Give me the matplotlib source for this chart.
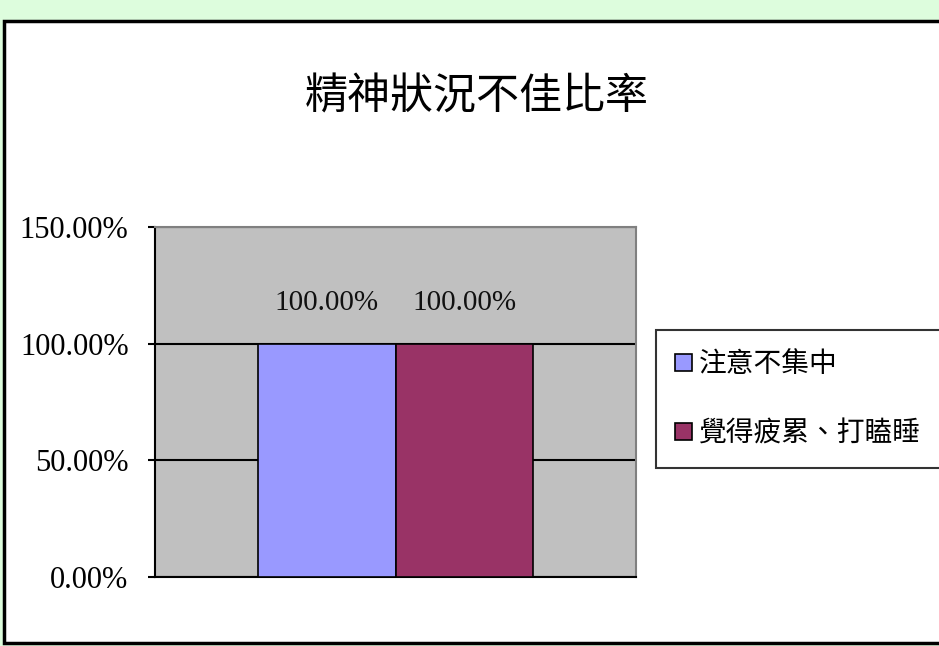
import matplotlib
matplotlib.use("Agg")
import matplotlib.pyplot as plt
from matplotlib.patches import Rectangle

title = "精神狀況不佳比率"
series_names = ["注意不集中", "覺得疲累、打瞌睡"]
series_values = [1.0, 1.0]
series_colors = ["#9999FF", "#993366"]
yticks = [0.0, 0.5, 1.0, 1.5]

cjk = ["Noto Sans CJK TC", "DejaVu Sans"]
serif = "Liberation Serif"

W, H = 939, 646
fig = plt.figure(figsize=(W / 100, H / 100), dpi=100)
fig.patch.set_facecolor("#DDFDDD")

# white chart area with black frame, kept behind the axes
frame = Rectangle((4 / W, 3 / H), 1.0, 1 - 24 / H, transform=fig.transFigure,
                  facecolor="white", edgecolor="black", linewidth=2.5, zorder=-10)
fig.patches.append(frame)

ax = fig.add_axes([155 / W, 1 - 577 / H, (636 - 155) / W, (577 - 227) / H])
ax.set_facecolor("#C0C0C0")

width = 0.285
offsets = [-width / 2, width / 2]
for name, val, col, off in zip(series_names, series_values, series_colors, offsets):
    bars = ax.bar(off, val, width=width, color=col, edgecolor="black", linewidth=1.2,
                  label=name, zorder=3)
    ax.bar_label(bars, labels=["%.2f%%" % (v * 100) for v in [val]], padding=20,
                 fontsize=21, family=serif, color="#111111")

ax.set_xlim(-0.5, 0.5)
ax.set_ylim(0, 1.5)
ax.set_yticks(yticks)
ax.set_yticklabels(["%.2f%%" % (v * 100) for v in yticks], family=serif, fontsize=22)
ax.set_xticks([])
ax.yaxis.grid(True, color="black", linewidth=1.5, zorder=1)
ax.set_axisbelow(True)
ax.tick_params(axis="y", length=5, width=1.5, pad=14, color="black")
for s in ["top", "right"]:
    ax.spines[s].set_color("#808080")
    ax.spines[s].set_linewidth(1.5)
for s in ["left", "bottom"]:
    ax.spines[s].set_color("black")
    ax.spines[s].set_linewidth(1.5)

fig.text(477 / W, 1 - 97 / H, title, ha="center", va="center", fontsize=31, family=cjk)

leg = fig.legend(loc="upper left", bbox_to_anchor=(656 / W, 1 - 330 / H),
                 prop={"family": cjk, "size": 20}, frameon=True, fancybox=False,
                 edgecolor="black", handlelength=0.6, handleheight=0.6,
                 handletextpad=0.25, labelspacing=1.4, borderpad=0.7,
                 borderaxespad=0)
leg.get_frame().set_linewidth(1.5)

fig.savefig("out.png", dpi=100, facecolor=fig.get_facecolor())
